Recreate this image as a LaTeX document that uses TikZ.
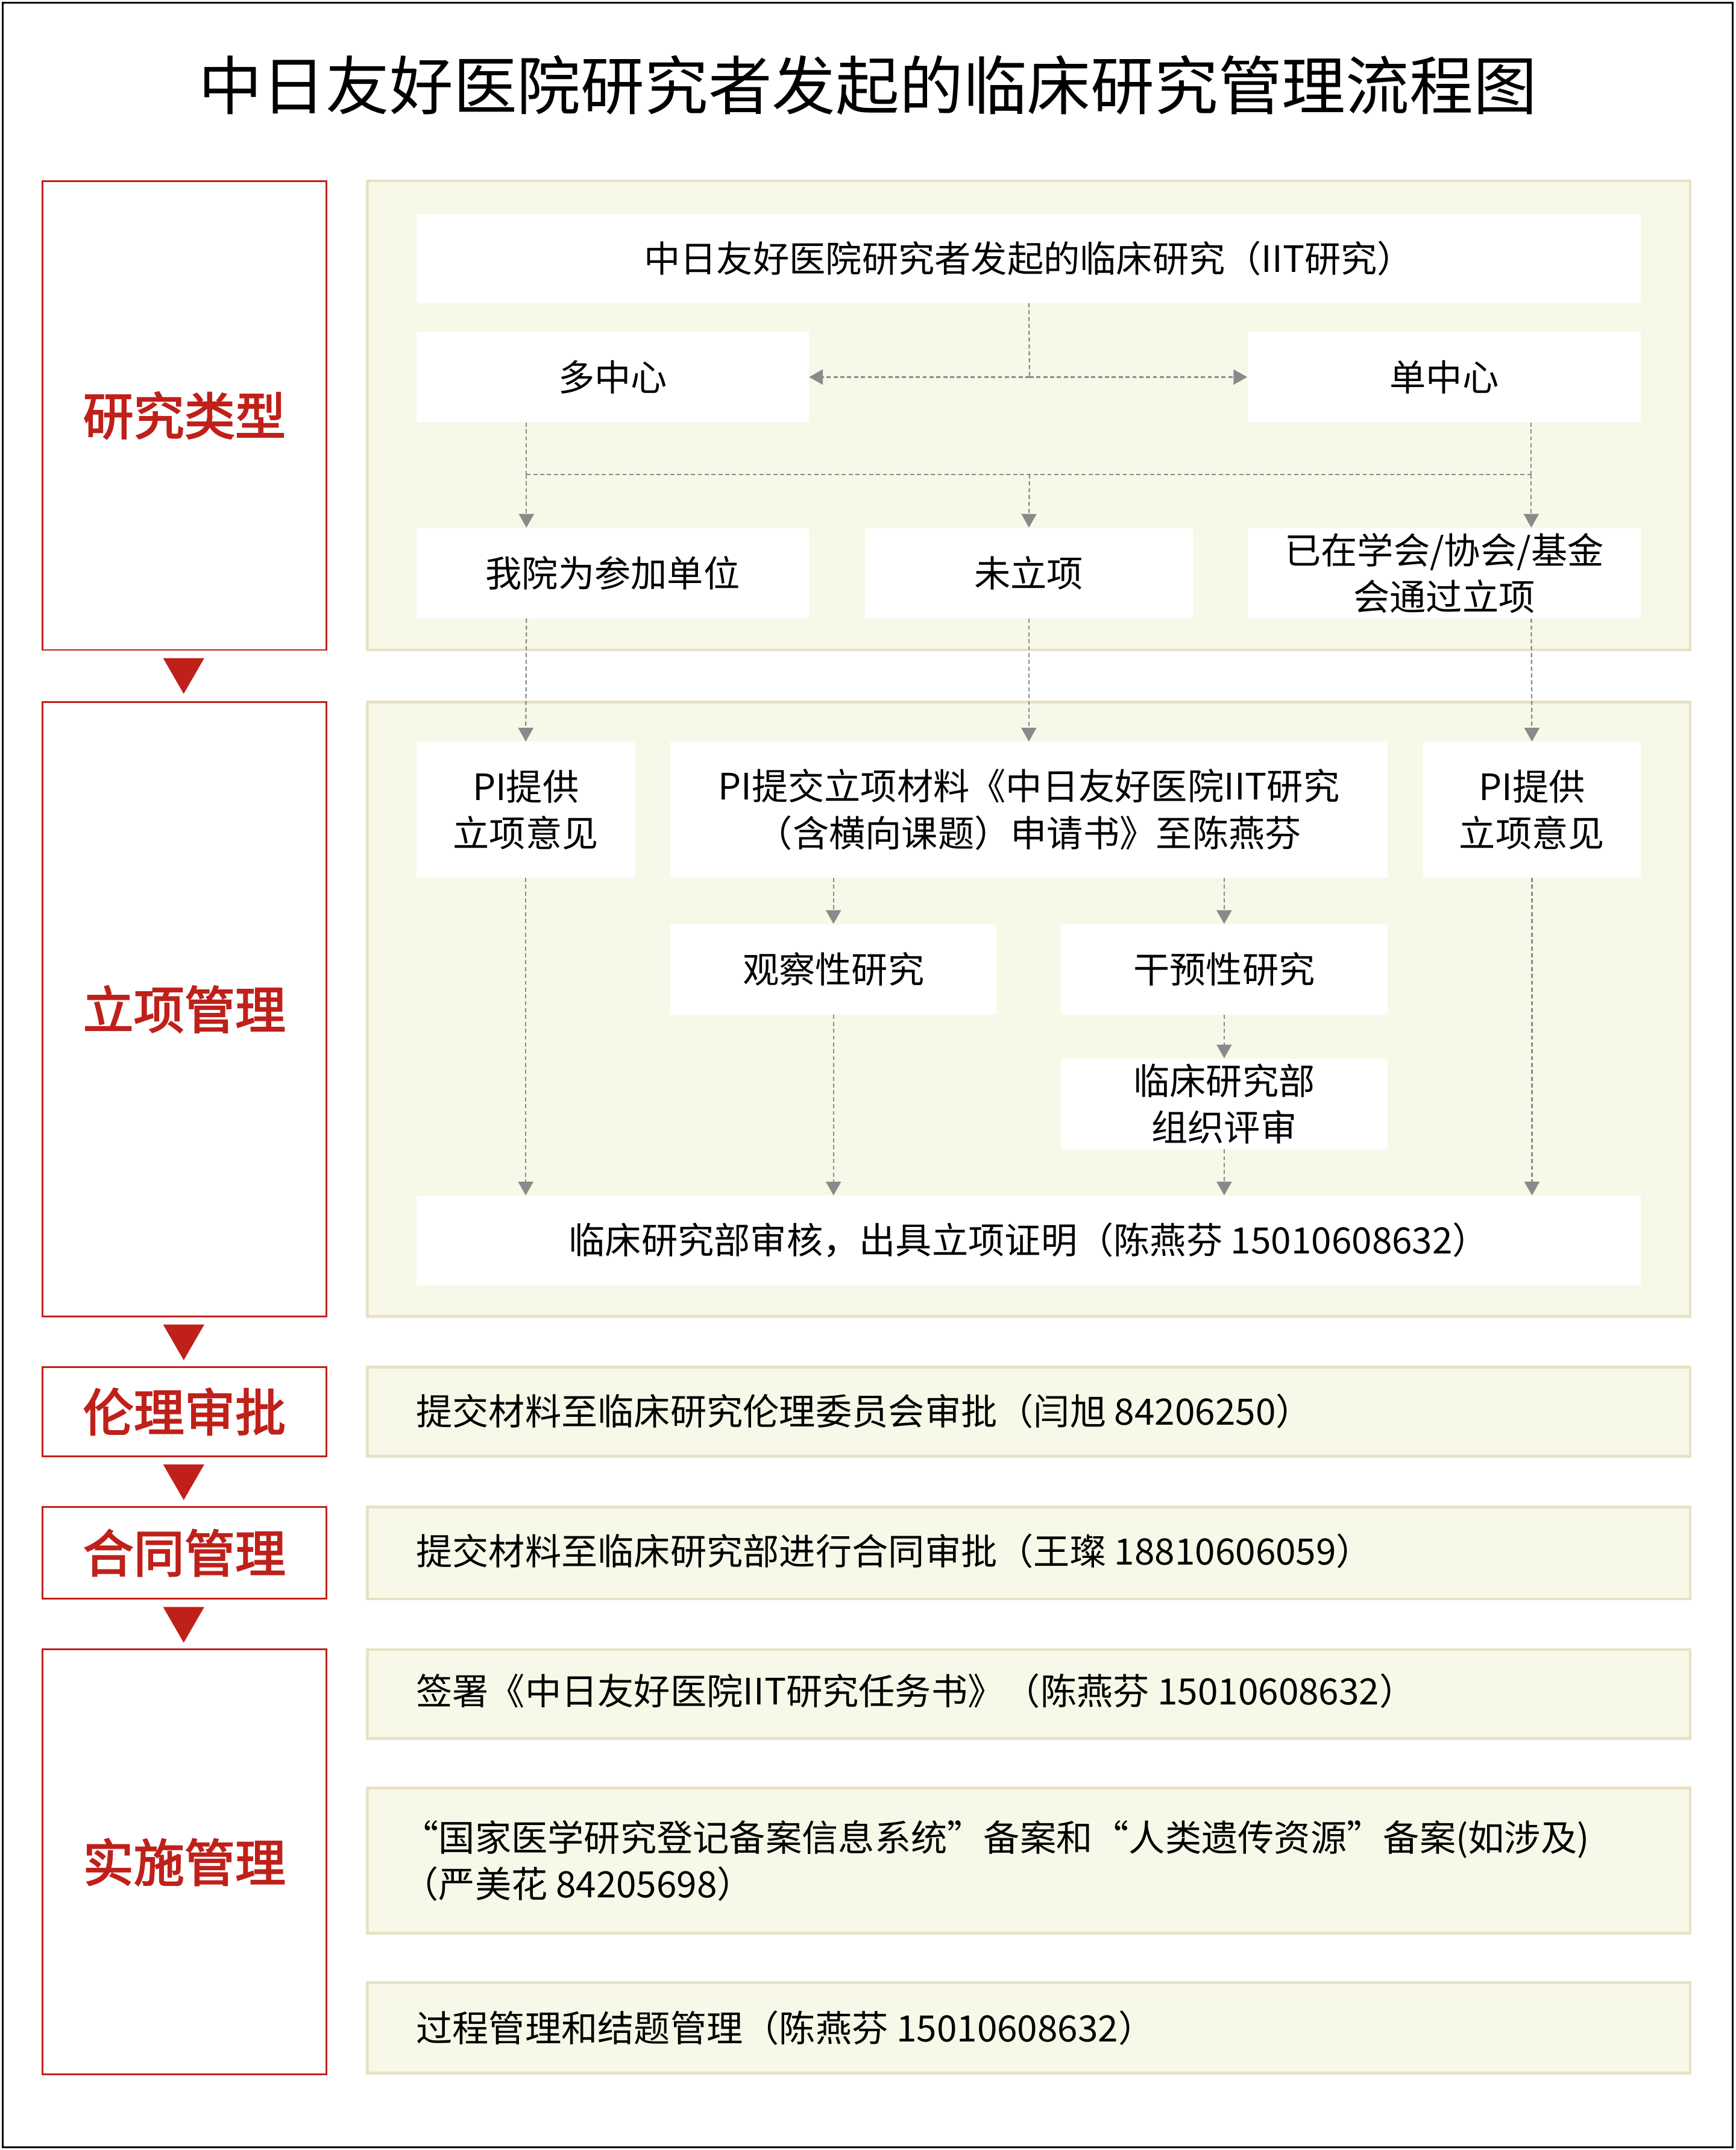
\documentclass[tikz,border=0pt]{standalone}
\usepackage{fontspec}
\setmainfont{Noto Sans CJK SC}[AutoFakeBold=2.5]
\usetikzlibrary{arrows.meta}
\definecolor{redc}{HTML}{C0201A}
\definecolor{panelf}{HTML}{F8F8E9}
\definecolor{paneld}{HTML}{E8E2C4}
\definecolor{grayc}{HTML}{8A8A8A}
\tikzset{
 lab/.style={draw=redc,line width=1.3pt,fill=white,text=redc,font=\fontsize{37}{42}\selectfont\bfseries},
 panel/.style={draw=paneld,fill=panelf,line width=2pt},
 wbox/.style={fill=white,font=\fontsize{26.5}{34}\selectfont,align=center},
 ltext/.style={font=\fontsize{26.5}{34}\selectfont,anchor=west,align=left},
 con/.style={draw=grayc,line width=1pt,dash pattern=on 3pt off 2pt},
 arr/.style={con,-{Triangle[width=11pt,length=10pt]}},
 tri/.style={fill=redc,draw=none}
}
\newcommand{\rbox}[6]{\node[#6,minimum width=#3-#1,minimum height=#4-#2,inner sep=0pt] (#5) at ({(#1+#3)/2},{(#2+#4)/2}) {};}
\newcommand{\lbl}[2]{\node[text=redc,font=\fontsize{37}{42}\selectfont\bfseries] at (#1) {#2};}
\begin{document}
\begin{tikzpicture}[x=1pt,y=-1pt]
\useasboundingbox (0,0) rectangle (1266,1568);
\draw[line width=1.5pt] (2,2) rectangle (1264,1566);
\node[font=\fontsize{46.5}{52}\selectfont] (title) at (633,62) {中日友好医院研究者发起的临床研究管理流程图};
% left labels
\rbox{31}{132}{238}{474}{L1}{lab}\lbl{L1}{研究类型}
\rbox{31}{512}{238}{960}{L2}{lab}\lbl{L2}{立项管理}
\rbox{31}{997}{238}{1062}{L3}{lab}\lbl{L3}{伦理审批}
\rbox{31}{1099}{238}{1166}{L4}{lab}\lbl{L4}{合同管理}
\rbox{31}{1203}{238}{1513}{L5}{lab}\lbl{L5}{实施管理}
\foreach \y in {480,966,1068,1172}{\fill[tri] (119,\y) -- (149,\y) -- (134,\y+26) -- cycle;}
% panels
\rbox{268}{132}{1233}{474}{P1}{panel}
\rbox{268}{512}{1233}{960}{P2}{panel}
\rbox{268}{997}{1233}{1062}{P3}{panel}
\rbox{268}{1099}{1233}{1166}{P4}{panel}
\rbox{268}{1203}{1233}{1268}{P5}{panel}
\rbox{268}{1304}{1233}{1410}{P6}{panel}
\rbox{268}{1446}{1233}{1512}{P7}{panel}
\node[ltext] at (300,1029) {提交材料至临床研究伦理委员会审批（闫旭 84206250）};
\node[ltext] at (300,1131) {提交材料至临床研究部进行合同审批（王璨 18810606059）};
\node[ltext] at (300,1233) {签署《中日友好医院IIT研究任务书》（陈燕芬 15010608632）};
\node[ltext] at (290,1357) {“国家医学研究登记备案信息系统”备案和“人类遗传资源”备案(如涉及)\\（严美花 84205698）};
\node[ltext] at (300,1479) {过程管理和结题管理（陈燕芬 15010608632）};
% panel 1 boxes
\rbox{304}{156}{1197}{221}{iit}{wbox}\node[wbox] at (iit) {中日友好医院研究者发起的临床研究（IIT研究）};
\rbox{304}{242}{590}{308}{multi}{wbox}\node[wbox] at (multi) {多中心};
\rbox{910}{242}{1197}{308}{single}{wbox}\node[wbox] at (single) {单中心};
\rbox{304}{385}{590}{451}{join}{wbox}\node[wbox] at (join) {我院为参加单位};
\rbox{631}{385}{870}{451}{nproj}{wbox}\node[wbox] at (nproj) {未立项};
\rbox{910}{385}{1197}{451}{soc}{wbox}\node[wbox] at (soc) {已在学会/协会/基金\\会通过立项};
% panel 2 boxes
\rbox{304}{541}{463}{640}{pil}{wbox}\node[wbox] at (pil) {PI提供\\立项意见};
\rbox{489}{541}{1012}{640}{sub}{wbox}\node[wbox] at (sub) {PI提交立项材料《中日友好医院IIT研究\\（含横向课题）申请书》至陈燕芬};
\rbox{1038}{541}{1197}{640}{pir}{wbox}\node[wbox] at (pir) {PI提供\\立项意见};
\rbox{489}{674}{727}{740}{obs}{wbox}\node[wbox] at (obs) {观察性研究};
\rbox{774}{674}{1012}{740}{intv}{wbox}\node[wbox] at (intv) {干预性研究};
\rbox{774}{772}{1012}{838}{rev}{wbox}\node[wbox] at (rev) {临床研究部\\组织评审};
\rbox{304}{872}{1197}{937}{fin}{wbox}\node[wbox] at (fin) {临床研究部审核，出具立项证明（陈燕芬 15010608632）};
% connectors
\coordinate (c1) at (751,275);
\draw[con] (iit.south) -- (c1);
\draw[arr] (c1) -- (multi.east);
\draw[arr] (c1) -- (single.west);
\coordinate (jl) at (384,346); \coordinate (jm) at (751,346); \coordinate (jr) at (1117,346);
\draw[con] (multi.south -| jl) -- (jl);
\draw[con] (single.south -| jr) -- (jr);
\draw[con] (jl) -- (jr);
\draw[arr] (jl) -- (join.north -| jl);
\draw[arr] (jm) -- (nproj.north);
\draw[arr] (jr) -- (soc.north -| jr);
\draw[arr] (join.south -| jl) -- (pil.north);
\draw[arr] (nproj.south) -- (sub.north -| nproj.south);
\draw[arr] (soc.south -| jr) -- (pir.north);
\draw[arr] (sub.south -| obs.north) -- (obs.north);
\draw[arr] (sub.south -| intv.north) -- (intv.north);
\draw[arr] (intv.south) -- (rev.north);
\draw[arr] (pil.south) -- (fin.north -| pil.south);
\draw[arr] (obs.south) -- (fin.north -| obs.south);
\draw[arr] (rev.south) -- (fin.north -| rev.south);
\draw[arr] (pir.south) -- (fin.north -| pir.south);
\end{tikzpicture}
\end{document}
